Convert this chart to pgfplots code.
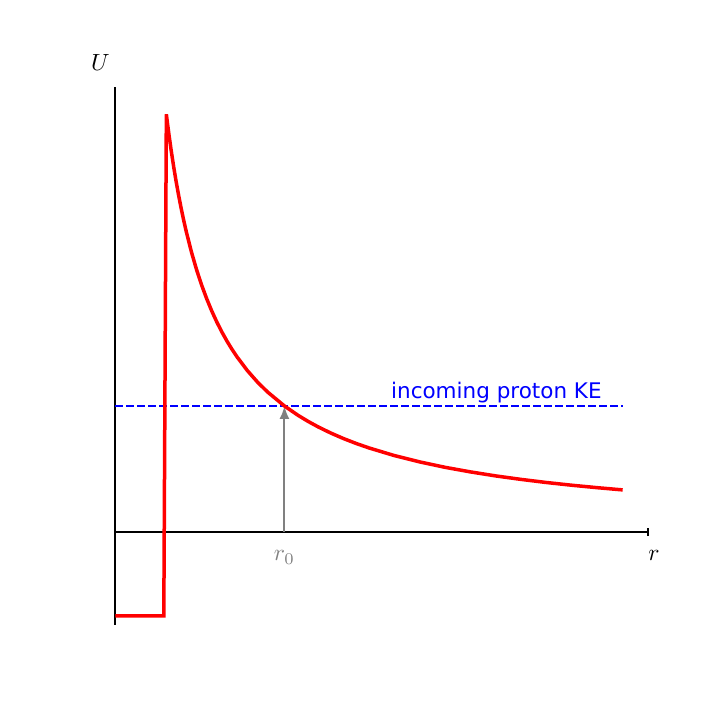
\documentclass[border=0pt]{standalone}
\usepackage{graphicx}
\usepackage{pgfplots}
\pgfplotsset{compat=1.18}
\usepackage{fontspec}
\newfontfamily\dejavu{DejaVu Sans}
\usetikzlibrary{arrows.meta}
\definecolor{mplgray}{HTML}{808080}
\begin{document}
\begin{tikzpicture}
\useasboundingbox (0,0) rectangle (720bp,720bp);
\begin{axis}[
  at={(90bp,79bp)}, anchor=south west,
  scale only axis, width=558bp, height=554bp,
  xmin=-0.05, xmax=1.05, ymin=-2.6, ymax=10.6,
  axis lines=none, clip=false,
]
% spines
\draw[black, line width=2bp] (axis cs:0,-2.214) -- (axis cs:0,10.6);
\draw[black, line width=2bp] (axis cs:0,0) -- (axis cs:1.05,0);
\draw[black, line width=1.2bp] (axis cs:1.05,-0.1) -- (axis cs:1.05,0.1);
% energy level
\addplot[blue, line width=2bp, dash pattern=on 7.7bp off 3.3bp] coordinates {(0,3) (1,3)};
% r0 arrow
\draw[mplgray, line width=2bp, -{Latex[length=13bp,width=10bp]}] (axis cs:0.3333,0) -- (axis cs:0.3333,3);
% potential
\addplot[red, line width=3.5bp, line join=miter] coordinates {
(0,-2) (0.0955,-2) (0.1005,9.950) (0.103,9.709) (0.106,9.434) (0.11,9.091)
(0.115,8.696) (0.12,8.333) (0.125,8.0) (0.13,7.692) (0.135,7.407) (0.14,7.143)
(0.15,6.667) (0.16,6.25) (0.17,5.882) (0.18,5.556) (0.19,5.263) (0.2,5.0)
(0.21,4.762) (0.22,4.545) (0.23,4.348) (0.24,4.167) (0.26,3.846) (0.28,3.571)
(0.3,3.333) (0.3333,3.0) (0.36,2.778) (0.38,2.632) (0.4,2.5) (0.425,2.353)
(0.45,2.222) (0.475,2.105) (0.5,2.0) (0.55,1.818) (0.6,1.667) (0.65,1.538)
(0.7,1.429) (0.75,1.333) (0.8,1.25) (0.85,1.176) (0.9,1.111) (0.95,1.053) (1.0,1.0)
};
% labels
\node[anchor=base, inner sep=0pt] at (axis cs:-0.0295,11.0) {\scalebox{2.35}{$U$}};
\node[anchor=base, inner sep=0pt] at (axis cs:1.062,-0.69) {\scalebox{2.35}{$r$}};
\node[anchor=base, inner sep=0pt, text=mplgray] at (axis cs:0.3333,-0.69) {\scalebox{2.35}{$r_0$}};
\node[anchor=base east, inner sep=0pt, text=blue, font=\dejavu\fontsize{21.5bp}{26bp}\selectfont] at (axis cs:0.959,3.17) {incoming proton KE};
\end{axis}
\end{tikzpicture}
\end{document}
